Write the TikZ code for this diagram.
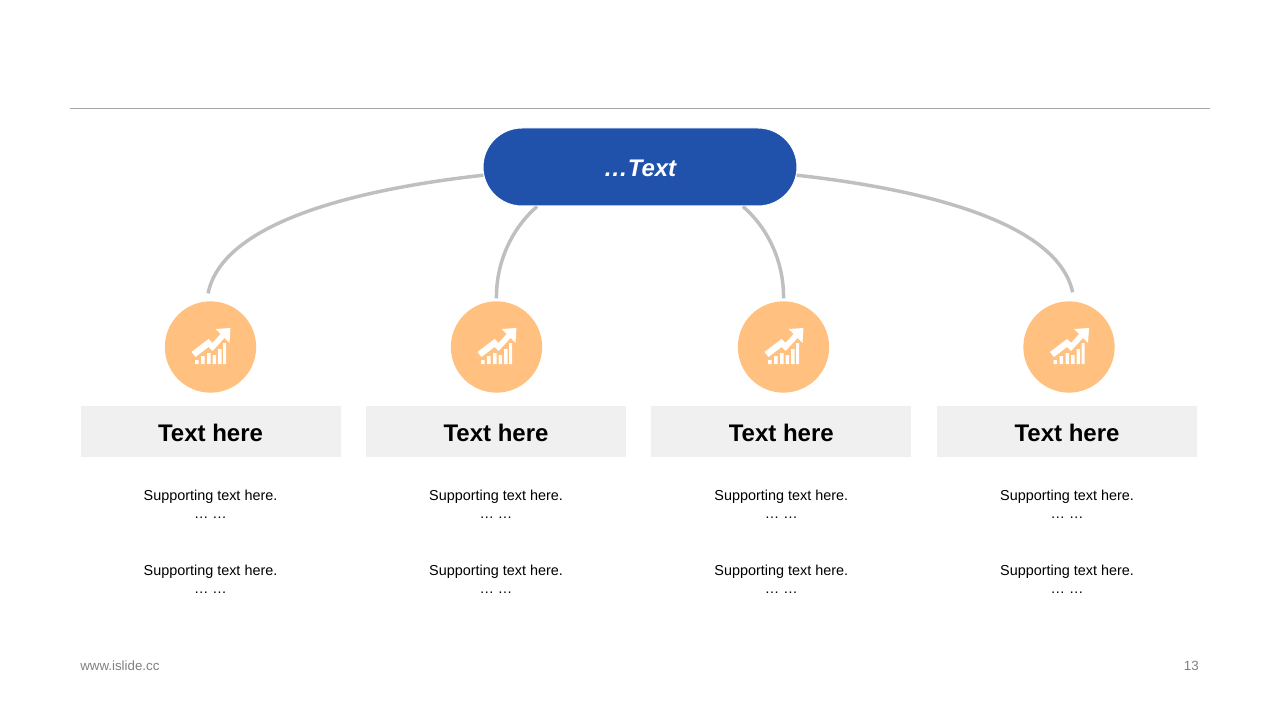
\documentclass[tikz,border=0pt]{standalone}
\usepackage{fontspec}
\setmainfont{Liberation Sans}
\usetikzlibrary{shapes.misc}
\definecolor{hubblue}{HTML}{2152AB}
\definecolor{dotorange}{HTML}{FFC080}
\definecolor{linkgray}{HTML}{BFBFBF}
\definecolor{rulegray}{HTML}{A6A6A6}
\definecolor{boxgray}{HTML}{F0F0F0}
\definecolor{footgray}{HTML}{808080}
\tikzset{
    hub/.style={rounded rectangle, fill=hubblue, draw=white, line width=.75pt,
    	minimum width=235.5pt, minimum height=58.5pt, inner sep=0pt,
    	text height=14.5pt, text depth=0pt,
    	text=white, font=\bfseries\itshape\fontsize{18}{20}\selectfont},
    dot/.style={circle, fill=dotorange, minimum size=68.5pt, inner sep=0pt},
    headbox/.style={fill=boxgray, minimum width=195pt, minimum height=38.5pt,
    	inner sep=0pt, text height=14.5pt, text depth=0pt,
    	font=\bfseries\fontsize{18}{20}\selectfont},
    support/.style={inner sep=0pt, font=\fontsize{10.8}{12}\selectfont},
    foot/.style={inner sep=0pt, text=footgray, font=\fontsize{10}{11}\selectfont},
    link/.style={draw=linkgray, line width=2.6pt}
}

\begin{document}
\begin{tikzpicture}[x=.75pt, y=-.75pt]
  \useasboundingbox (0,0) rectangle (1280,720);
  \coordinate (rule_l) at (70,108.5);
  \coordinate (rule_r) at (1210,108.5);
  \draw [rulegray, line width=.75pt] (rule_l) -- (rule_r);

  \node (hub) [hub] at (640,167) {…Text};

  % one column per topic
  \foreach \i/\x/\dx in {1/210.5/210.5, 2/496/496.5, 3/781.3/783.5, 4/1067/1069} {
    \node (dot_\i) [dot] at (\dx,347) {};
    \fill [white, shift={(\dx,347)}]
      (-19,5) -- (-2,-8) -- (2,-4) -- (10,-13) -- (5,-18) -- (20,-19) -- (19,-4)
      -- (14,-9) -- (2,4) -- (-2,0) -- (-15,10) -- cycle
      (-15.5,17) rectangle (-12,13) (-9.5,17) rectangle (-6,9)
      (-3.5,17) rectangle (0,6) (2,17) rectangle (5.5,8)
      (7.5,17) rectangle (11,2) (12.5,17) rectangle (15.5,-4);
    \node (head_\i) [headbox] at (\x,431.8) {Text here};
    \node (sup_a_\i) [support] at (\x,496.5) {Supporting text here.};
    \node (dots_a_\i) [support] at (\x,518) {… …};
    \node (sup_b_\i) [support] at (\x,571.5) {Supporting text here.};
    \node (dots_b_\i) [support] at (\x,593) {… …};
  }

  \draw [link, shorten >=6pt] (hub.183.6) .. controls (350,190) and (222,224) .. (dot_1.95);
  \draw [link, shorten >=2pt] (hub.201.9) .. controls (512,228) and (496,262) .. (dot_2.north);
  \draw [link, shorten >=2pt] (hub.-21.9) .. controls (768,228) and (784,262) .. (dot_3.north);
  \draw [link, shorten >=7pt] (hub.-3.6) .. controls (930,190) and (1058,224) .. (dot_4.83);

  \node (site) [foot, anchor=west] at (80,666) {www.islide.cc};
  \node (page) [foot, anchor=east] at (1199,666) {13};
\end{tikzpicture}
\end{document}
